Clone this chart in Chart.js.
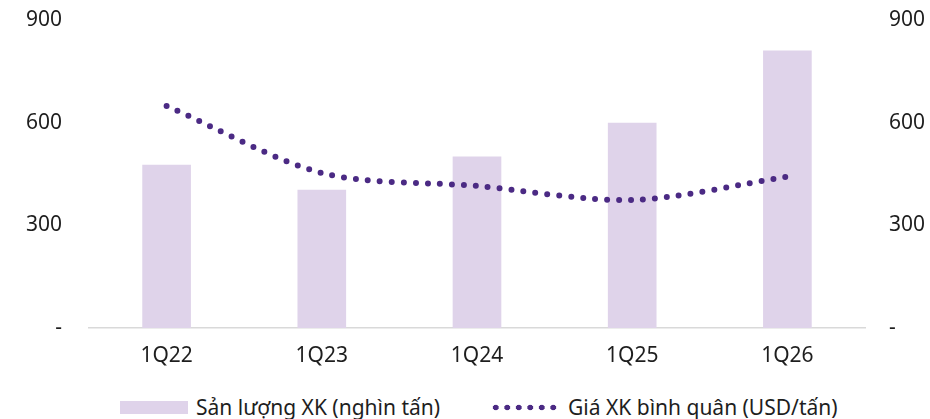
<!DOCTYPE html>
<html>
<head>
<meta charset="utf-8">
<script src="https://cdn.jsdelivr.net/npm/chart.js@4"></script>
<style>
  html, body { margin: 0; padding: 0; background: #fff; }
  body { width: 930px; height: 419px; overflow: hidden; font-family: 'Noto Sans', sans-serif; }
  #wrap { position: relative; width: 930px; height: 382px; }
  #legend { position: absolute; top: 393px; left: 0; width: 930px; height: 28px; font-size: 21px; color: #1e1e1e; }
  .item { position: absolute; top: 0; display: flex; align-items: center; white-space: nowrap; }
  .swatch { display: inline-block; width: 68px; height: 13px; background: #dfd3ea; margin-right: 8px; }
  .dots { display: inline-block; width: 70px; height: 7px; margin-right: 8px;
    background: radial-gradient(circle, #4b2a84 2.6px, transparent 3.1px) repeat-x;
    background-size: 11.5px 7px; }
</style>
</head>
<body>
<div id="wrap"><canvas id="myChart" width="930" height="382"></canvas></div>
<div id="legend">
  <div class="item" style="left:120px"><span class="swatch"></span>Sản lượng XK (nghìn tấn)</div>
  <div class="item" style="left:490px"><span class="dots"></span>Giá XK bình quân (USD/tấn)</div>
</div>
<script>
// Data
const quarters = ['1Q22', '1Q23', '1Q24', '1Q25', '1Q26'];
const volume = [476, 403, 500, 599, 810];   // nghìn tấn
const price = [649, 453, 415, 374, 442];    // USD/tấn
const yTicks = [0, 300, 600, 900];

const ctx = document.getElementById('myChart').getContext('2d');

const tickFont = { family: "'Noto Sans', sans-serif", size: 21 };

// fix the y axis width and drop the extra top/bottom padding Chart.js adds from the tick padding
function fixY(width) {
  return function(scale) {
    scale.width = width;
    scale.paddingTop = 0;
    scale.paddingBottom = 0;
  };
}

// Create the chart
var myChart = new Chart(ctx, {
  type: 'bar',
  data: {
    labels: quarters,
    datasets: [{
      type: 'line',
      label: 'Giá XK bình quân (USD/tấn)',
      data: price,
      yAxisID: 'y1',
      borderColor: '#4b2a84',
      borderWidth: 6,
      borderDash: [0, 12],
      borderCapStyle: 'round',
      tension: 0.3,
      pointRadius: 0,
      fill: false,
      order: 0
    }, {
      label: 'Sản lượng XK (nghìn tấn)',
      data: volume,
      yAxisID: 'y',
      backgroundColor: '#dfd3ea',
      barThickness: 48,
      order: 1
    }]
  },
  options: {
    responsive: false,
    animation: false,
    layout: { padding: { top: 20, left: 0, right: 0, bottom: 0 } },
    plugins: {
      legend: { display: false },
      tooltip: { enabled: false }
    },
    scales: {
      x: {
        grid: { display: false, drawTicks: false },
        border: { display: true, color: '#d9d9d9', width: 1.5 },
        ticks: { color: '#1e1e1e', font: tickFont, padding: 15 },
        afterFit: function(scale) { scale.height = 54; }
      },
      y: {
        position: 'left',
        min: 0,
        max: 900,
        afterBuildTicks: function(scale) { scale.ticks = yTicks.map(v => ({ value: v })); },
        grid: { display: false, drawTicks: false },
        border: { display: false },
        ticks: {
          color: '#1e1e1e',
          font: tickFont,
          padding: 27,
          callback: function(v) { return v === 0 ? '-' : v; }
        },
        afterFit: fixY(89)
      },
      y1: {
        position: 'right',
        min: 0,
        max: 900,
        afterBuildTicks: function(scale) { scale.ticks = yTicks.map(v => ({ value: v })); },
        grid: { display: false, drawTicks: false },
        border: { display: false },
        ticks: {
          color: '#1e1e1e',
          font: tickFont,
          padding: 24,
          callback: function(v) { return v === 0 ? '-' : v; }
        },
        afterFit: fixY(65)
      }
    }
  }
});
</script>
</body>
</html>
